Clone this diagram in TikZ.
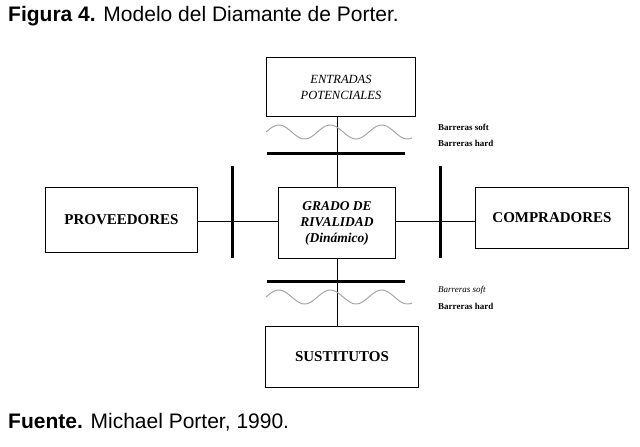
\documentclass[tikz,border=0pt]{standalone}
\usepackage{fontspec}
\setmainfont{Liberation Serif}
\newfontfamily\arial{Liberation Sans}
\begin{document}
\begin{tikzpicture}[x=1pt,y=-1pt,
 box/.style={draw,line width=1pt,inner sep=0pt,anchor=north west,align=center},
 bar/.style={line width=3pt},
 wave/.style={gray!70,line width=1pt},
 lbl/.style={font=\bfseries\fontsize{9}{10}\selectfont,anchor=west,inner sep=0pt}]
\useasboundingbox (0,0) rectangle (640,447);
\node[anchor=west,inner sep=0pt,font=\arial\fontsize{21}{24}\selectfont] (title) at (8,16) {\textbf{Figura 4.} Modelo del Diamante de Porter.};
\node[anchor=west,inner sep=0pt,font=\arial\fontsize{21}{24}\selectfont] (src) at (8,422) {\textbf{Fuente.} Michael Porter, 1990.};
\node[box,minimum width=149pt,minimum height=59pt,font=\itshape\fontsize{12.5}{16}\selectfont] (ent) at (266,57) {ENTRADAS\\POTENCIALES};
\node[box,minimum width=117pt,minimum height=71pt,font=\bfseries\itshape\fontsize{13.5}{16}\selectfont] (gr) at (278,187) {GRADO DE\\RIVALIDAD\\(Dinámico)};
\node[box,minimum width=152pt,minimum height=65pt,font=\bfseries\fontsize{15}{17}\selectfont] (prov) at (45,187) {PROVEEDORES};
\node[box,minimum width=153pt,minimum height=61pt,font=\bfseries\fontsize{15}{17}\selectfont] (comp) at (475,187) {COMPRADORES};
\node[box,minimum width=153pt,minimum height=61pt,font=\bfseries\fontsize{15}{17}\selectfont] (sus) at (265,326) {SUSTITUTOS};
\coordinate (vt) at (337,116);
\draw (vt) -- (vt |- gr.north);
\draw (vt |- gr.south) -- (vt |- sus.north);
\coordinate (hz) at (0,221);
\draw (hz -| prov.east) -- (hz -| gr.west);
\draw (hz -| gr.east) -- (hz -| comp.west);
\draw[bar] (267,153) -- (405,153);
\draw[bar] (267,281) -- (405,281);
\draw[bar] (232,166) -- (232,258);
\draw[bar] (440,166) -- (440,258);
\draw[wave,domain=0:146,samples=80,smooth] plot (266+\x,{132-7*sin(\x*7)});
\draw[wave,domain=0:146,samples=80,smooth] plot (266+\x,{297-7*sin(\x*7)});
\node[lbl] (s1) at (438,127) {Barreras soft};
\node[lbl] (h1) at (438,143) {Barreras hard};
\node[lbl,font=\itshape\fontsize{9}{10}\selectfont] (s2) at (438,290) {Barreras soft};
\node[lbl] (h2) at (438,306) {Barreras hard};
\end{tikzpicture}
\end{document}
